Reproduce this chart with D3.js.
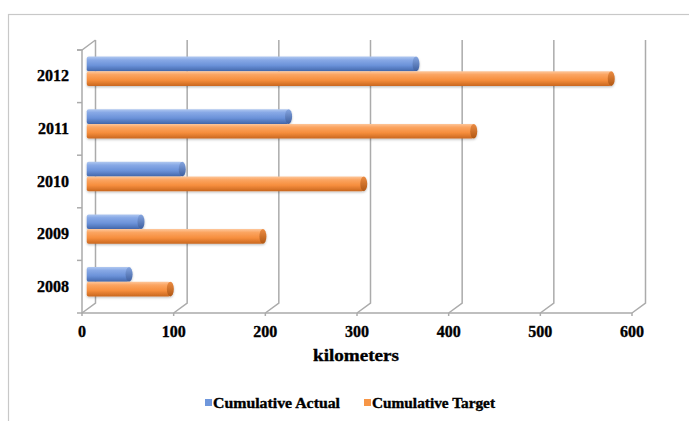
<!DOCTYPE html>
<html><head><meta charset="utf-8">
<script src="https://cdn.jsdelivr.net/npm/d3@7"></script>
<style>body{margin:0;background:#fff}svg{display:block}
text{stroke:#000;stroke-width:0.35px}</style>
</head><body>
<svg id="chart" width="689" height="421"></svg>
<script>
// Cumulative kilometers per year, actual vs target
const years = ["2012", "2011", "2010", "2009", "2008"];
const actual = [357, 218, 102, 57, 44];
const target = [570, 420, 300, 190, 89];
const seriesNames = ["Cumulative Actual", "Cumulative Target"];
const xTicks = [0, 100, 200, 300, 400, 500, 600];
const axisTitle = "kilometers";

const W = 689, H = 421;
const font = "'Liberation Serif', 'Times New Roman', serif";
const svg = d3.select("#chart");

// chart area frame
svg.append("rect")
  .attr("x", 8.5).attr("y", 14.5).attr("width", W).attr("height", H)
  .attr("fill", "#fff").attr("stroke", "#c8c8c8").attr("stroke-width", 1.2);

// 3-D projection: front plane plus a receding depth offset
const depth = { dx: 13.5, dy: -10 };
const x = d3.scaleLinear().domain([0, 600]).range([82, 632]);
const y = d3.scaleBand().domain(years).range([50, 313]);
const inner = d3.scaleBand().domain(seriesNames).range([0, y.bandwidth()])
  .paddingInner(0).paddingOuter(0.79);
const yTop = y.range()[0], yBot = y.range()[1];

const grid = svg.append("g").attr("fill", "none").attr("stroke", "#ababab")
  .attr("stroke-width", 1.5);

// back-wall gridlines folding onto the floor
xTicks.forEach(t => {
  const xf = x(t), xb = x(t) + depth.dx;
  grid.append("path").attr("d",
    `M${xb},${yTop + depth.dy}L${xb},${yBot + depth.dy}L${xf},${yBot}`);
});
// left wall edges, front floor edge and top fold
grid.append("path").attr("d",
  `M${x(0)},${yTop}L${x(0)},${yBot}L${x(600)},${yBot}`);
grid.append("path").attr("d",
  `M${x(0) - 5},${yTop}L${x(0)},${yTop}L${x(0) + depth.dx},${yTop + depth.dy}`);

// category ticks on the left axis
years.concat([null]).forEach(c => {
  const yy = c ? y(c) : yBot;
  grid.append("line").attr("x1", x(0) - 5).attr("x2", x(0))
    .attr("y1", yy).attr("y2", yy);
});
// value ticks on the floor
xTicks.forEach(t => {
  grid.append("line").attr("x1", x(t)).attr("x2", x(t))
    .attr("y1", yBot).attr("y2", yBot + 3);
});

// gradients for the cylinder-like bars
const defs = svg.append("defs");
const palettes = [
  { body: ["#b0c8f0", "#88a9e6", "#6b92d9", "#4367ab"], cap: ["#86a6e0", "#3d5e9f"] },
  { body: ["#fec79b", "#fba562", "#f68e3d", "#c9671f"], cap: ["#ec8c42", "#b05714"] }
];
palettes.forEach((p, i) => {
  const g = defs.append("linearGradient").attr("id", "body" + i)
    .attr("x1", 0).attr("y1", 0).attr("x2", 0).attr("y2", 1);
  [0, 0.22, 0.6, 1].forEach((o, k) =>
    g.append("stop").attr("offset", o).attr("stop-color", p.body[k]));
  const c = defs.append("linearGradient").attr("id", "cap" + i)
    .attr("x1", 0).attr("y1", 0).attr("x2", 0).attr("y2", 1);
  c.append("stop").attr("offset", 0).attr("stop-color", p.cap[0]);
  c.append("stop").attr("offset", 1).attr("stop-color", p.cap[1]);
});
// soft shadow under each bar
const shadow = defs.append("filter").attr("id", "shadow")
  .attr("x", "-5%").attr("y", "-30%").attr("width", "110%").attr("height", "170%");
shadow.append("feDropShadow").attr("dx", 0).attr("dy", 1.2)
  .attr("stdDeviation", 0.9).attr("flood-color", "#000").attr("flood-opacity", 0.25);

const series = [actual, target];
const bars = svg.append("g");
years.forEach((yr, ci) => {
  seriesNames.forEach((s, si) => {
    const v = series[si][ci];
    const h = inner.bandwidth();
    const y0 = y(yr) + inner(s) + depth.dy / 2;
    const xs = x(0) + depth.dx / 2 - 2;
    const xe = x(v) + depth.dx / 2;
    const bar = bars.append("g").attr("filter", "url(#shadow)");
    bar.append("rect")
      .attr("x", xs).attr("y", y0).attr("width", xe - xs).attr("height", h)
      .attr("rx", 2).attr("fill", `url(#body${si})`);
    bar.append("ellipse")
      .attr("cx", xe).attr("cy", y0 + h / 2).attr("rx", 3.5).attr("ry", h / 2)
      .attr("fill", `url(#cap${si})`);
  });
});

// category labels
svg.append("g").selectAll("text").data(years).join("text")
  .attr("x", 69).attr("y", d => y(d) + y.bandwidth() / 2 + 5)
  .attr("text-anchor", "end")
  .attr("font-family", font).attr("font-weight", "bold").attr("font-size", 16)
  .attr("fill", "#000").text(d => d);

// value labels
svg.append("g").selectAll("text").data(xTicks).join("text")
  .attr("x", d => x(d)).attr("y", 337)
  .attr("text-anchor", "middle")
  .attr("font-family", font).attr("font-weight", "bold").attr("font-size", 16)
  .attr("fill", "#000").text(d => d);

svg.append("text").attr("x", 356).attr("y", 361).attr("text-anchor", "middle")
  .attr("font-family", font).attr("font-weight", "bold").attr("font-size", 17)
  .attr("textLength", 86).attr("lengthAdjust", "spacingAndGlyphs")
  .attr("fill", "#000").text(axisTitle);

// legend
const legendX = [205, 364];
const legendW = [127, 123];
const legendColors = ["#6f97dc", "#f79646"];
seriesNames.forEach((s, i) => {
  svg.append("rect").attr("x", legendX[i]).attr("y", 399)
    .attr("width", 7).attr("height", 7).attr("fill", legendColors[i]);
  svg.append("text").attr("x", legendX[i] + 8).attr("y", 408)
    .attr("font-family", font).attr("font-weight", "bold").attr("font-size", 14)
    .attr("textLength", legendW[i]).attr("lengthAdjust", "spacingAndGlyphs")
    .attr("fill", "#000").text(s);
});
</script>
</body></html>
